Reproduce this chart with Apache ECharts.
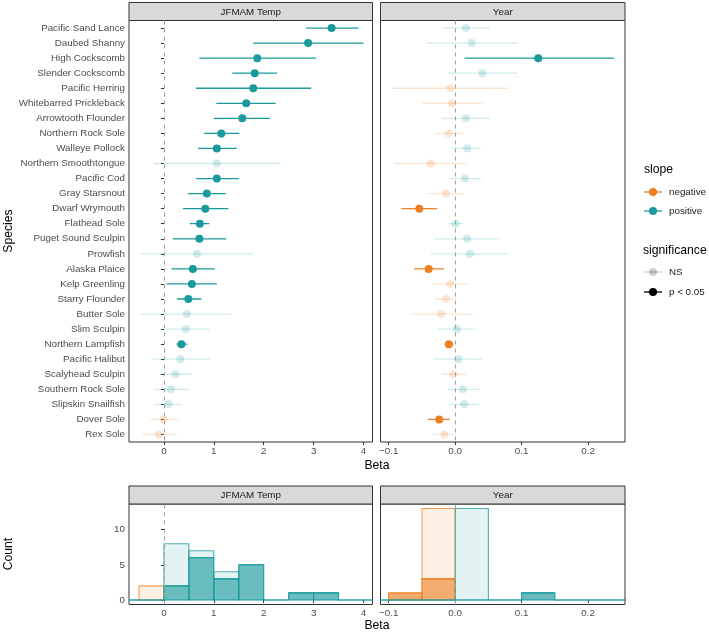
<!DOCTYPE html>
<html>
<head>
<meta charset="utf-8">
<script src="https://cdn.jsdelivr.net/npm/echarts@6/dist/echarts.min.js"></script>
<style>
  html, body { margin: 0; padding: 0; background: #fff; }
  #chart { width: 709px; height: 632px; }
</style>
</head>
<body>
<div id="chart"></div>
<script>
// species, top to bottom
const species = ['Pacific Sand Lance', 'Daubed Shanny', 'High Cockscomb', 'Slender Cockscomb',
  'Pacific Herring', 'Whitebarred Prickleback', 'Arrowtooth Flounder', 'Northern Rock Sole',
  'Walleye Pollock', 'Northern Smoothtongue', 'Pacific Cod', 'Gray Starsnout', 'Dwarf Wrymouth',
  'Flathead Sole', 'Puget Sound Sculpin', 'Prowfish', 'Alaska Plaice', 'Kelp Greenling',
  'Starry Flounder', 'Butter Sole', 'Slim Sculpin', 'Northern Lampfish', 'Pacific Halibut',
  'Scalyhead Sculpin', 'Southern Rock Sole', 'Slipskin Snailfish', 'Dover Sole', 'Rex Sole'];

// JFMAM Temp effect
const tempBeta = [3.36, 2.89, 1.87, 1.82, 1.79, 1.65, 1.57, 1.15, 1.06, 1.06, 1.06, 0.86, 0.83, 0.72,
  0.71, 0.66, 0.58, 0.56, 0.49, 0.46, 0.44, 0.35, 0.33, 0.23, 0.14, 0.09, -0.01, -0.10];
const tempLo = [2.85, 1.79, 0.71, 1.37, 0.64, 1.05, 1.00, 0.80, 0.68, -0.21, 0.64, 0.48, 0.38, 0.52,
  0.18, -0.46, 0.15, 0.05, 0.26, -0.46, 0.05, 0.25, -0.24, -0.08, -0.21, -0.21, -0.28, -0.44];
const tempHi = [3.90, 4.00, 3.05, 2.27, 2.95, 2.24, 2.12, 1.51, 1.46, 2.33, 1.50, 1.24, 1.29, 0.91,
  1.25, 1.79, 1.02, 1.06, 0.75, 1.37, 0.91, 0.47, 0.92, 0.55, 0.52, 0.38, 0.29, 0.26];
const tempSig = [1, 1, 1, 1, 1, 1, 1, 1, 1, 0, 1, 1, 1, 1, 1, 0, 1, 1, 1, 0, 0, 1, 0, 0, 0, 0, 0, 0];

// Year effect
const yearBeta = [0.016, 0.025, 0.125, 0.041, -0.0075, -0.0045, 0.016, -0.010, 0.018, -0.037, 0.015,
  -0.014, -0.054, 0.0006, 0.018, 0.022, -0.040, -0.0075, -0.014, -0.021, 0.0026, -0.0095, 0.005,
  -0.0024, 0.0116, 0.0136, -0.024, -0.016];
const yearLo = [-0.018, -0.043, 0.014, -0.011, -0.095, -0.050, -0.020, -0.032, -0.004, -0.092, -0.009,
  -0.041, -0.081, -0.010, -0.032, -0.037, -0.062, -0.035, -0.031, -0.067, -0.026, -0.0155, -0.031,
  -0.020, -0.011, -0.0095, -0.041, -0.033];
const yearHi = [0.052, 0.094, 0.239, 0.095, 0.080, 0.041, 0.052, 0.011, 0.038, 0.018, 0.039, 0.012,
  -0.027, 0.012, 0.067, 0.080, -0.017, 0.021, 0.002, 0.027, 0.031, -0.0024, 0.041, 0.016, 0.036,
  0.036, -0.008, 0.001];
const yearSig = [0, 0, 1, 0, 0, 0, 0, 0, 0, 0, 0, 0, 1, 0, 0, 0, 1, 0, 0, 0, 0, 1, 0, 0, 0, 0, 1, 0];

// histogram counts (bins of 0.5 for temp, 0.05 for year)
const tempEdges = [-1, -0.5, 0, 0.5, 1, 1.5, 2, 2.5, 3, 3.5, 4, 4.5];
const tempNegNS = [0, 2, 0, 0, 0, 0, 0, 0, 0, 0, 0];
const tempNegSig = [0, 0, 0, 0, 0, 0, 0, 0, 0, 0, 0];
const tempPosNS = [0, 0, 6, 1, 1, 0, 0, 0, 0, 0, 0];
const tempPosSig = [0, 0, 2, 6, 3, 5, 0, 1, 1, 0, 0];

const yearEdges = [-0.15, -0.1, -0.05, 0, 0.05, 0.1, 0.15, 0.2, 0.25, 0.3];
const yearNegNS = [0, 0, 10, 0, 0, 0, 0, 0, 0];
const yearNegSig = [0, 1, 3, 0, 0, 0, 0, 0, 0];
const yearPosNS = [0, 0, 0, 13, 0, 0, 0, 0, 0];
const yearPosSig = [0, 0, 0, 0, 0, 1, 0, 0, 0];

const tempTicks = [0, 1, 2, 3, 4];
const yearTicks = [-0.1, 0, 0.1, 0.2];
const countTicks = [0, 5, 10];

const ORANGE = '#F07F23';
const TEAL = '#1A9A9C';
const FONT = '"Liberation Sans", Arial, sans-serif';

function rgba(hex, a) {
  const n = parseInt(hex.slice(1), 16);
  return 'rgba(' + (n >> 16) + ',' + ((n >> 8) & 255) + ',' + (n & 255) + ',' + a + ')';
}

function forestData(beta, lo, hi, sig) {
  return species.map((s, i) => [beta[i], i, lo[i], hi[i], sig[i]]);
}

function histData(edges, negNS, negSig, posNS, posSig) {
  const out = [];
  for (let i = 0; i < edges.length - 1; i++) {
    if (negNS[i] > 0) out.push([edges[i], edges[i + 1], negSig[i], negSig[i] + negNS[i], 0, 0]);
    if (negSig[i] > 0) out.push([edges[i], edges[i + 1], 0, negSig[i], 0, 1]);
  }
  for (let i = 0; i < edges.length - 1; i++) {
    out.push([edges[i], edges[i + 1], posSig[i], posSig[i] + posNS[i], 1, 0]);
    out.push([edges[i], edges[i + 1], 0, posSig[i], 1, 1]);
  }
  return out;
}

function renderForest(params, api) {
  const b = api.value(0), idx = api.value(1), sig = api.value(4);
  const p = api.coord([b, idx]);
  const l = api.coord([api.value(2), idx]);
  const h = api.coord([api.value(3), idx]);
  const col = b < 0 ? ORANGE : TEAL;
  const a = sig ? 1 : 0.2;
  return {
    type: 'group',
    children: [
      { type: 'line', shape: { x1: l[0], y1: p[1], x2: h[0], y2: p[1] },
        style: { stroke: rgba(col, a), lineWidth: 1.3 } },
      { type: 'circle', shape: { cx: p[0], cy: p[1], r: 4 },
        style: { fill: rgba(col, a) } }
    ]
  };
}

function renderHist(params, api) {
  const p0 = api.coord([api.value(0), api.value(2)]);
  const p1 = api.coord([api.value(1), api.value(3)]);
  const col = api.value(4) ? TEAL : ORANGE;
  const sig = api.value(5);
  return {
    type: 'rect',
    shape: { x: p0[0], y: p1[1], width: p1[0] - p0[0], height: p0[1] - p1[1] },
    style: { fill: rgba(col, sig ? 0.65 : 0.12), stroke: rgba(col, sig ? 1 : 0.75), lineWidth: 1.1 }
  };
}

function fmtYear(v) {
  return v < 0 ? '\u2212' + Math.abs(v).toFixed(1) : v.toFixed(1);
}

const axisText = { color: '#4d4d4d', fontSize: 9.8, fontFamily: FONT };
const tickStyle = { show: true, length: 3, lineStyle: { color: '#333', width: 1 } };

function xAx(grid, min, max, ticks, fmt) {
  return {
    type: 'value', gridIndex: grid, min: min, max: max,
    splitLine: { show: false }, axisLine: { show: false },
    axisTick: Object.assign({ customValues: ticks }, tickStyle),
    axisLabel: Object.assign({ customValues: ticks, margin: 4, formatter: fmt }, axisText)
  };
}

function vline(xi, yi) {
  return {
    type: 'line', xAxisIndex: xi, yAxisIndex: yi, data: [], z: 5,
    markLine: {
      silent: true, symbol: 'none', label: { show: false },
      lineStyle: { type: [4, 4], color: '#a0a0a0', width: 1 },
      data: [{ xAxis: 0 }]
    }
  };
}

function strip(x, y, w, label) {
  return {
    type: 'group', children: [
      { type: 'rect', shape: { x: x, y: y, width: w, height: 18 },
        style: { fill: '#d9d9d9', stroke: '#333', lineWidth: 1 } },
      { type: 'text', x: x + w / 2, y: y + 9.5,
        style: { text: label, font: '9.8px ' + FONT, fill: '#1a1a1a', align: 'center', verticalAlign: 'middle' } }
    ]
  };
}

function label(x, y, text, size, rot, align) {
  return {
    type: 'text', x: x, y: y, rotation: rot || 0,
    style: { text: text, font: size + 'px ' + FONT, fill: '#000', align: align || 'center', verticalAlign: 'middle' }
  };
}

function key(y, col, text) {
  return {
    type: 'group', children: [
      { type: 'line', shape: { x1: 644, y1: y, x2: 662, y2: y }, style: { stroke: col, lineWidth: 1.3 } },
      { type: 'circle', shape: { cx: 653, cy: y, r: 4 }, style: { fill: col } },
      { type: 'text', x: 669, y: y,
        style: { text: text, font: '9.8px ' + FONT, fill: '#1a1a1a', align: 'left', verticalAlign: 'middle' } }
    ]
  };
}

const chart = echarts.init(document.getElementById('chart'));
chart.setOption({
  animation: false,
  backgroundColor: '#fff',
  textStyle: { fontFamily: FONT },
  grid: [
    { left: 129, top: 20.5, width: 243.5, height: 421.5, show: true, borderColor: '#333', borderWidth: 1 },
    { left: 380.5, top: 20.5, width: 244.5, height: 421.5, show: true, borderColor: '#333', borderWidth: 1 },
    { left: 129, top: 504, width: 243.5, height: 100.5, show: true, borderColor: '#333', borderWidth: 1 },
    { left: 380.5, top: 504, width: 244.5, height: 100.5, show: true, borderColor: '#333', borderWidth: 1 }
  ],
  xAxis: [
    xAx(0, -0.70, 4.18, tempTicks, v => String(v)),
    xAx(1, -0.1124, 0.2556, yearTicks, fmtYear),
    xAx(2, -0.70, 4.18, tempTicks, v => String(v)),
    xAx(3, -0.1124, 0.2556, yearTicks, fmtYear)
  ],
  yAxis: [
    { type: 'category', gridIndex: 0, inverse: true, data: species,
      axisLine: { show: false }, splitLine: { show: false },
      axisTick: Object.assign({ alignWithLabel: true, interval: 0 }, tickStyle),
      axisLabel: Object.assign({ interval: 0, margin: 4 }, axisText) },
    { type: 'category', gridIndex: 1, inverse: true, data: species,
      axisLine: { show: false }, splitLine: { show: false },
      axisTick: { show: false }, axisLabel: { show: false } },
    { type: 'value', gridIndex: 2, min: -0.65, max: 13.65,
      axisLine: { show: false }, splitLine: { show: false },
      axisTick: Object.assign({ customValues: countTicks }, tickStyle),
      axisLabel: Object.assign({ customValues: countTicks, margin: 4 }, axisText) },
    { type: 'value', gridIndex: 3, min: -0.65, max: 13.65,
      axisLine: { show: false }, splitLine: { show: false },
      axisTick: { show: false }, axisLabel: { show: false } }
  ],
  series: [
    { type: 'custom', xAxisIndex: 0, yAxisIndex: 0, renderItem: renderForest, clip: true,
      encode: { x: [0, 2, 3], y: 1 }, data: forestData(tempBeta, tempLo, tempHi, tempSig) },
    { type: 'custom', xAxisIndex: 1, yAxisIndex: 1, renderItem: renderForest, clip: true,
      encode: { x: [0, 2, 3], y: 1 }, data: forestData(yearBeta, yearLo, yearHi, yearSig) },
    { type: 'custom', xAxisIndex: 2, yAxisIndex: 2, renderItem: renderHist, clip: true,
      encode: { x: [0, 1], y: [2, 3] }, data: histData(tempEdges, tempNegNS, tempNegSig, tempPosNS, tempPosSig) },
    { type: 'custom', xAxisIndex: 3, yAxisIndex: 3, renderItem: renderHist, clip: true,
      encode: { x: [0, 1], y: [2, 3] }, data: histData(yearEdges, yearNegNS, yearNegSig, yearPosNS, yearPosSig) },
    vline(0, 0), vline(1, 1), vline(2, 2), vline(3, 3)
  ],
  graphic: [
    strip(129, 2.5, 243.5, 'JFMAM Temp'),
    strip(380.5, 2.5, 244.5, 'Year'),
    strip(129, 486, 243.5, 'JFMAM Temp'),
    strip(380.5, 486, 244.5, 'Year'),
    label(377, 466, 'Beta', 12.2),
    label(377, 626, 'Beta', 12.2),
    label(9, 231, 'Species', 12.2, Math.PI / 2),
    label(9, 554, 'Count', 12.2, Math.PI / 2),
    label(644, 170, 'slope', 12.2, 0, 'left'),
    key(192, ORANGE, 'negative'),
    key(211, TEAL, 'positive'),
    label(643, 251, 'significance', 12.2, 0, 'left'),
    key(272, 'rgba(0,0,0,0.2)', 'NS'),
    key(292, '#000', 'p < 0.05')
  ]
});
</script>
</body>
</html>
